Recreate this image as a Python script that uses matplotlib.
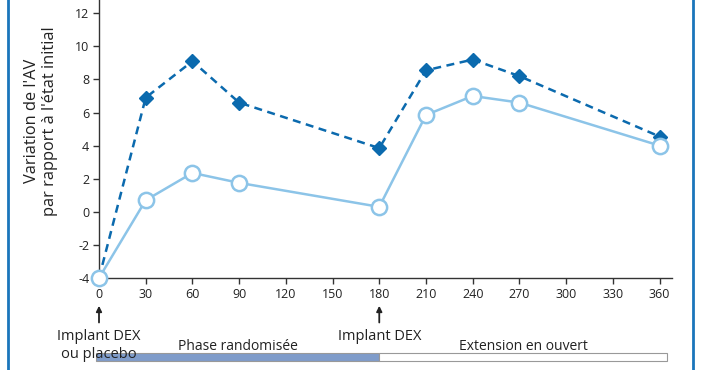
import matplotlib.pyplot as plt
from matplotlib.transforms import blended_transform_factory

plt.rcParams['font.family'] = ['Open Sans', 'DejaVu Sans']
plt.rcParams['axes.unicode_minus'] = False

jours = [0, 30, 60, 90, 180, 210, 240, 270, 360]
dex = [-4, 6.9, 9.1, 6.6, 3.85, 8.55, 9.2, 8.2, 4.55]
placebo = [-4, 0.7, 2.35, 1.75, 0.3, 5.85, 7.0, 6.6, 4.0]
xticks = list(range(0, 361, 30))
yticks = list(range(-4, 13, 2))

phases = ['Phase randomisée', 'Extension en ouvert']
phase_debut = [-2, 180]
phase_duree = [182, 185]

fig = plt.figure(figsize=(7.02, 3.70), dpi=100)
ax = fig.add_axes([99/702, 92/370, (672-99)/702, 278/370])

c_dark = '#0b6aae'
c_light = '#8cc4e8'

ax.plot(jours, dex, color=c_dark, lw=1.8, ls=(0, (3.2, 2.2)), marker='D', ms=7,
        mfc=c_dark, mec=c_dark, zorder=3, clip_on=False)
ax.plot(jours, placebo, color=c_light, lw=1.8, marker='o', ms=11, mfc='white',
        mec=c_light, mew=1.8, zorder=4, clip_on=False)

ax.set_xlim(0, 368)
ax.set_ylim(-4, 12.8)
ax.set_xticks(xticks)
ax.set_yticks(yticks)
ax.spines['top'].set_visible(False)
ax.spines['right'].set_visible(False)
for s in ['left', 'bottom']:
    ax.spines[s].set_color('#333333')
    ax.spines[s].set_linewidth(1)
ax.tick_params(axis='both', direction='out', length=4, width=1, color='#333333',
               labelsize=9, labelcolor='#222222', pad=3)
ax.set_ylabel("Variation de l'AV\npar rapport à l'état initial", fontsize=11.8,
              color='#222222', linespacing=1.15)
ax.yaxis.set_label_coords(-0.072, 0.565)

tr = blended_transform_factory(ax.transData, ax.transAxes)
# arrows for implants
for xa in [0, 180]:
    ax.annotate('', xy=(xa, -0.09), xytext=(xa, -0.17), xycoords=tr, textcoords=tr,
                arrowprops=dict(arrowstyle='-|>', color='#222222', lw=1.3,
                                mutation_scale=8), annotation_clip=False)
ax.text(0, -0.185, 'Implant DEX\nou placebo', transform=tr, ha='center', va='top',
        fontsize=10.5, color='#222222', linespacing=1.2)
ax.text(180, -0.185, 'Implant DEX', transform=tr, ha='center', va='top',
        fontsize=10.5, color='#222222')

# phase bar
ax.barh([-0.285], phase_duree, left=phase_debut, height=0.029, transform=tr,
        color=['#7f9cca', 'white'], edgecolor='#999999', lw=0.8, align='center',
        clip_on=False)
for nom, d, w in zip(phases, phase_debut, phase_duree):
    ax.text(d + w/2, -0.245, nom, transform=tr, ha='center', va='center',
            fontsize=10, color='#222222')

# side frame lines
fig.add_artist(plt.Line2D([8/702, 8/702], [0, 1], color='#1a75bb', lw=2))
fig.add_artist(plt.Line2D([693/702, 693/702], [0, 1], color='#1a75bb', lw=2))

fig.savefig('out.png', dpi=100)
